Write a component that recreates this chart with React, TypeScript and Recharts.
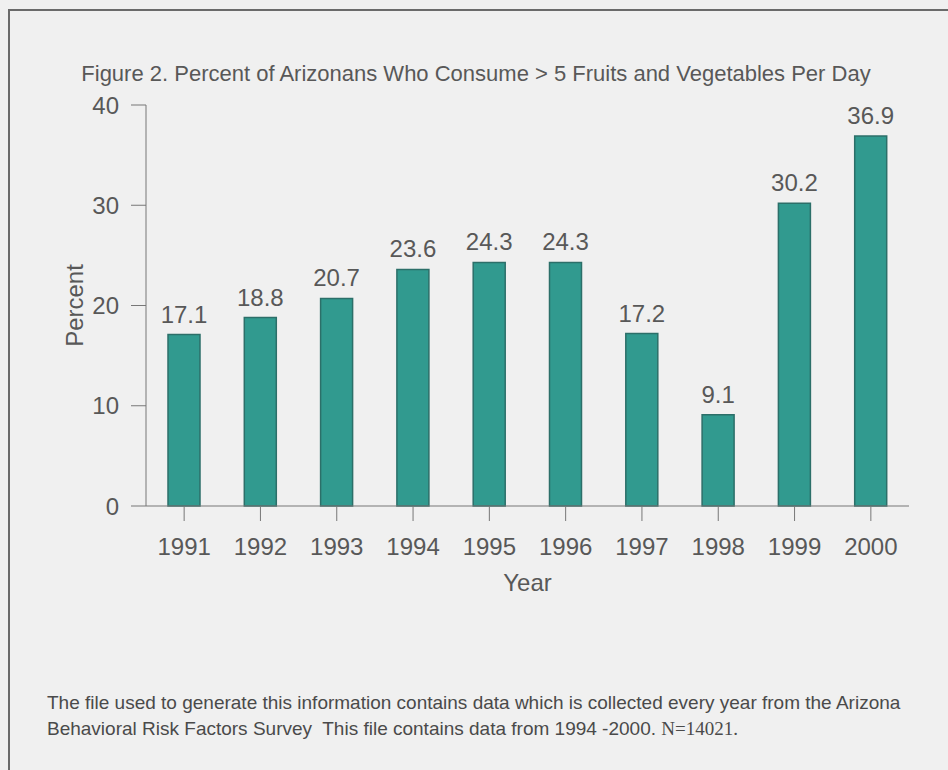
import React from "react";
import { BarChart, Bar, XAxis, YAxis, LabelList, Label } from "recharts";

const years = ["1991", "1992", "1993", "1994", "1995", "1996", "1997", "1998", "1999", "2000"];
const percents = [17.1, 18.8, 20.7, 23.6, 24.3, 24.3, 17.2, 9.1, 30.2, 36.9];
const yTicks = [0, 10, 20, 30, 40];

const title = "Figure 2. Percent of Arizonans Who Consume > 5 Fruits and Vegetables Per Day";
const footer1 = "The file used to generate this information contains data which is collected every year from the Arizona";
const footer2a = "Behavioral Risk Factors Survey  This file contains data from 1994 -2000. ";
const footer2b = "N=14021.";

const data = years.map((y, i) => ({ year: y, value: percents[i] }));

const FONT = "Arial, 'Liberation Sans', Helvetica, sans-serif";
const TEXT = "#585858";

export default function App() {
  return (
    <div style={{ position: "absolute", left: 0, top: 0, width: 948, height: 770, background: "#f0f0f0", overflow: "hidden", fontFamily: FONT }}>
      <div style={{ position: "absolute", left: 8, top: 9, width: 1000, height: 900, border: "2px solid #6a6a6a", boxSizing: "border-box" }} />
      <div style={{ position: "absolute", left: 0, top: 0 }}>
        <BarChart width={948} height={770} data={data} margin={{ top: 105, right: 39, bottom: 204, left: 66 }}>
          <text x={476} y={81} textAnchor="middle" fontSize={22} fill={TEXT} fontFamily={FONT}>{title}</text>
          <XAxis
            dataKey="year"
            stroke="#777"
            tickSize={15}
            tickMargin={17}
            height={60}
            tick={{ fill: TEXT, fontSize: 24, fontFamily: FONT }}
            axisLine={{ stroke: "#777" }}
          >
            <Label value="Year" position="insideBottom" offset={-25} fill={TEXT} fontSize={24} fontFamily={FONT} />
          </XAxis>
          <YAxis
            domain={[0, 40]}
            ticks={yTicks}
            width={80}
            stroke="#777"
            tickSize={15}
            tickMargin={12}
            tick={{ fill: TEXT, fontSize: 24, fontFamily: FONT }}
          >
            <Label value="Percent" angle={-90} position="insideLeft" offset={0} dx={8} fill={TEXT} fontSize={24} fontFamily={FONT} style={{ textAnchor: "middle" }} />
          </YAxis>
          <Bar dataKey="value" fill="#319a8f" stroke="#2c6f69" strokeWidth={1.5} barSize={32} isAnimationActive={false}>
            <LabelList dataKey="value" position="top" offset={12} fill={TEXT} fontSize={24} fontFamily={FONT} formatter={(v: number) => v.toFixed(1)} />
          </Bar>
        </BarChart>
      </div>
      <div style={{ position: "absolute", left: 47, top: 690, fontSize: 19, lineHeight: "26px", color: "#4a4a4a", whiteSpace: "pre" }}>
        <div>{footer1}</div>
        <div>{footer2a}<span style={{ fontFamily: "'Liberation Serif', 'Times New Roman', serif" }}>{footer2b}</span></div>
      </div>
    </div>
  );
}
